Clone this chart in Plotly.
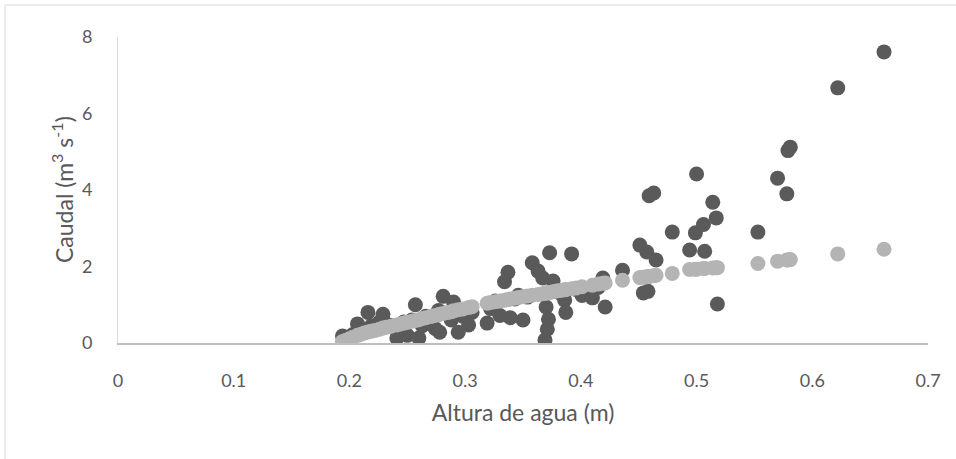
import plotly.graph_objects as go

# Water height (m)
altura = [0.194, 0.197, 0.200, 0.203, 0.207, 0.210, 0.213, 0.216, 0.219, 0.222,
          0.226, 0.229, 0.232, 0.236, 0.241, 0.244, 0.247, 0.250, 0.254, 0.257,
          0.260, 0.263, 0.266, 0.270, 0.274, 0.277, 0.278, 0.281, 0.285, 0.288,
          0.290, 0.294, 0.298, 0.303, 0.306, 0.319, 0.322, 0.326, 0.330, 0.334,
          0.337, 0.339, 0.343, 0.346, 0.350, 0.354, 0.358, 0.363, 0.367, 0.369,
          0.370, 0.371, 0.372, 0.373, 0.376, 0.379, 0.382, 0.386, 0.387, 0.392,
          0.396, 0.401, 0.410, 0.415, 0.419, 0.421, 0.436, 0.451, 0.454, 0.457,
          0.458, 0.459, 0.463, 0.465, 0.479, 0.494, 0.499, 0.500, 0.506, 0.507,
          0.514, 0.517, 0.518, 0.553, 0.570, 0.578, 0.579, 0.581, 0.622, 0.662]

# Measured discharge (m3 s-1)
caudal_medido = [0.18, 0.10, 0.12, 0.22, 0.50, 0.30, 0.35, 0.80, 0.45, 0.40,
                 0.55, 0.75, 0.50, 0.45, 0.13, 0.40, 0.55, 0.20, 0.60, 1.00,
                 0.13, 0.45, 0.70, 0.55, 0.38, 0.85, 0.28, 1.22, 0.75, 0.60,
                 1.07, 0.28, 0.70, 0.47, 0.80, 0.52, 0.90, 1.10, 0.72, 1.60,
                 1.85, 0.66, 1.15, 1.25, 0.60, 1.20, 2.10, 1.88, 1.70, 0.08,
                 0.94, 0.36, 0.62, 2.36, 1.62, 1.40, 1.30, 1.12, 0.80, 2.33,
                 1.40, 1.24, 1.18, 1.45, 1.70, 0.94, 1.90, 2.56, 1.31, 2.38,
                 1.35, 3.85, 3.92, 2.17, 2.90, 2.43, 2.88, 4.42, 3.10, 2.40,
                 3.68, 3.27, 1.02, 2.90, 4.31, 3.90, 5.03, 5.12, 6.67, 7.61]

# Estimated discharge (m3 s-1)
caudal_estimado = [0.04, 0.07, 0.11, 0.15, 0.20, 0.23, 0.26, 0.29, 0.31, 0.33,
                   0.36, 0.39, 0.41, 0.44, 0.47, 0.50, 0.52, 0.54, 0.57, 0.59,
                   0.61, 0.64, 0.66, 0.69, 0.72, 0.74, 0.75, 0.77, 0.80, 0.82,
                   0.84, 0.87, 0.89, 0.93, 0.95, 1.04, 1.06, 1.08, 1.10, 1.12,
                   1.14, 1.15, 1.17, 1.19, 1.21, 1.23, 1.25, 1.27, 1.29, 1.30,
                   1.31, 1.31, 1.32, 1.32, 1.34, 1.36, 1.37, 1.39, 1.40, 1.42,
                   1.44, 1.47, 1.51, 1.54, 1.56, 1.57, 1.64, 1.71, 1.72, 1.73,
                   1.74, 1.74, 1.76, 1.77, 1.82, 1.92, 1.93, 1.93, 1.95, 1.95,
                   1.96, 1.97, 1.97, 2.08, 2.14, 2.17, 2.17, 2.18, 2.33, 2.45]

x_ticks = [0, 0.1, 0.2, 0.3, 0.4, 0.5, 0.6, 0.7]
x_tick_labels = ["0", "0.1", "0.2", "0.3", "0.4", "0.5", "0.6", "0.7"]
y_ticks = [0, 2, 4, 6, 8]
x_title = "Altura de agua (m)"
y_title = "Caudal (m<sup>3</sup> s<sup>-1</sup>)"

FONT = "Lato"
TXT = "#595959"

fig = go.Figure()
fig.add_trace(go.Scatter(x=altura, y=caudal_medido, mode="markers",
                         marker=dict(size=15, color="#5a5a5a", line=dict(width=0)),
                         name="Medido", showlegend=False))
fig.add_trace(go.Scatter(x=altura, y=caudal_estimado, mode="markers",
                         marker=dict(size=15, color="#b4b4b4", line=dict(width=0)),
                         name="Estimado", showlegend=False))

L, R, T, B = 118, 28, 37, 116
W, H = 956, 459
pw, ph = W - L - R, H - T - B

fig.update_layout(
    width=W, height=H,
    margin=dict(l=L, r=R, t=T, b=B, pad=0),
    paper_bgcolor="white", plot_bgcolor="white",
    font=dict(family=FONT, size=18, color=TXT),
    xaxis=dict(range=[0, 0.7], tickvals=x_ticks, ticktext=x_tick_labels,
               showgrid=False, zeroline=False, showline=True,
               linecolor="#bfbfbf", linewidth=1.5,
               ticks="outside", ticklen=21, tickcolor="rgba(0,0,0,0)",
               tickfont=dict(size=18, color=TXT, family=FONT),
               title=dict(text=x_title, font=dict(size=23, color=TXT, family=FONT),
                          standoff=15)),
    yaxis=dict(range=[0, 8], tickvals=y_ticks,
               showgrid=False, zeroline=False, showline=True,
               linecolor="#d9d9d9", linewidth=1,
               ticks="outside", ticklen=21, tickcolor="rgba(0,0,0,0)",
               tickfont=dict(size=18, color=TXT, family=FONT)),
)

fig.add_annotation(text=y_title, xref="paper", yref="paper",
                   x=(62 - L) / pw, y=0.5, xanchor="center", yanchor="middle",
                   textangle=-90, showarrow=False,
                   font=dict(size=23, color=TXT, family=FONT))

fig.add_shape(type="rect", xref="paper", yref="paper",
              x0=(5 - L) / pw, x1=(W + 20 - L) / pw,
              y0=-(H + 20 - T - ph) / ph, y1=(H - B - 5) / ph,
              line=dict(color="#d9d9d9", width=1), fillcolor="rgba(0,0,0,0)", layer="below")

fig.write_html("out.html")
